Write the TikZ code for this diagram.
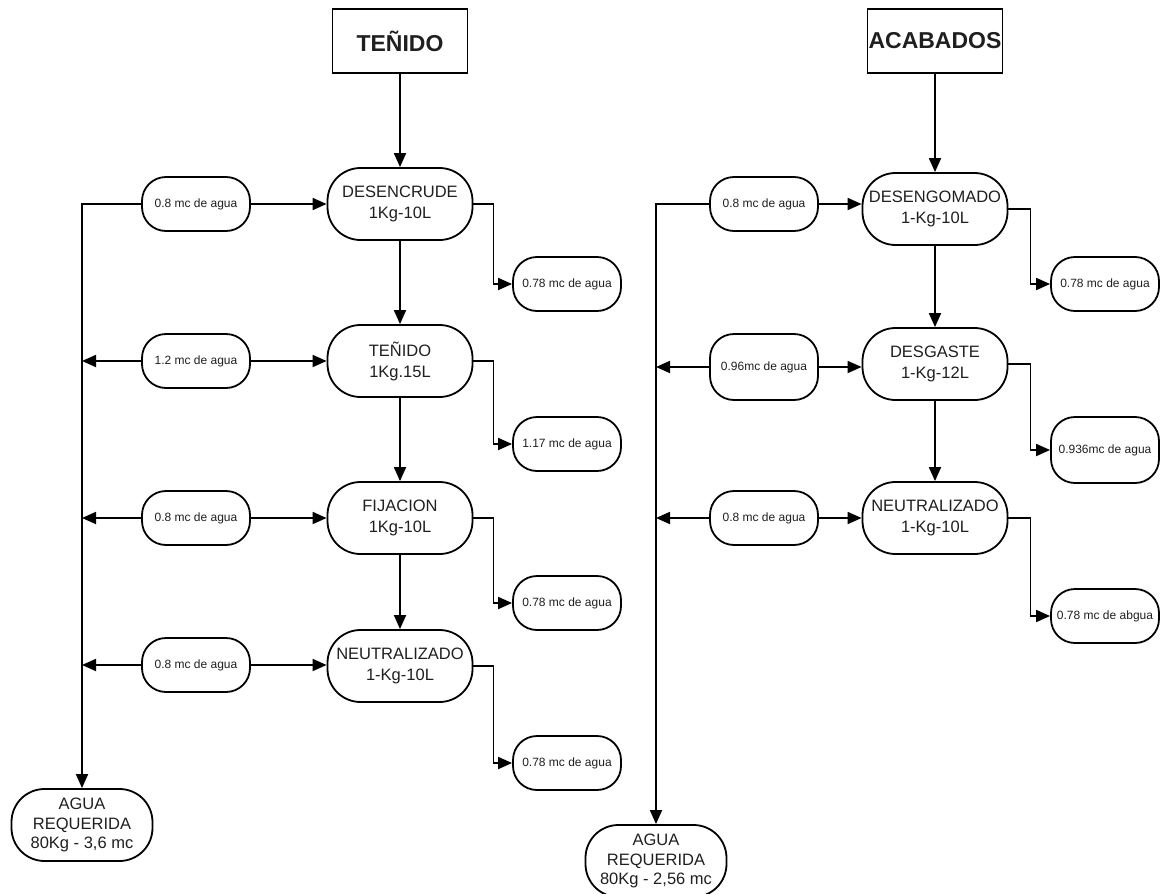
\documentclass[tikz,border=0pt]{standalone}
\usepackage{fontspec}
\setmainfont{Liberation Sans}
\usetikzlibrary{arrows.meta}
\begin{document}
\begin{tikzpicture}[x=1pt,y=-1pt,
  every node/.style={inner sep=0pt, align=center, text=black!88},
  line/.style={draw=black, line width=1.8pt},
  arr/.style={line, -{Triangle[length=14pt,width=12pt]}},
  header/.style={draw, line width=1.8pt, minimum width=135pt, minimum height=64pt,
    font=\fontsize{23}{26}\selectfont\bfseries},
  proc/.style={draw, line width=1.8pt, rounded corners=33pt, minimum width=145pt,
    minimum height=72pt, font=\fontsize{16.5}{21}\selectfont},
  water/.style={draw, line width=1.8pt, rounded corners=24pt, minimum width=108pt,
    minimum height=54pt, font=\fontsize{12}{14}\selectfont},
  total/.style={draw, line width=1.8pt, rounded corners=33pt, minimum width=141pt,
    minimum height=72pt, font=\fontsize{16.5}{19.5}\selectfont},
]
\useasboundingbox (0,0) rectangle (1163,894);

% ---------------- TEÑIDO ----------------
\node[header] (hA) at (400,41) {TEÑIDO};
\node[proc] (pA1) at (400,204) {DESENCRUDE\\1Kg-10L};
\node[proc] (pA2) at (400,361) {TEÑIDO\\1Kg.15L};
\node[proc] (pA3) at (400,518) {FIJACION\\1Kg-10L};
\node[proc] (pA4) at (400,666) {NEUTRALIZADO\\1-Kg-10L};

\node[water] (iA1) at (196,204) {0.8 mc de agua};
\node[water] (iA2) at (196,361) {1.2 mc de agua};
\node[water] (iA3) at (196,518) {0.8 mc de agua};
\node[water] (iA4) at (196,665) {0.8 mc de agua};

\node[water] (oA1) at (567,284) {0.78 mc de agua};
\node[water] (oA2) at (567,444) {1.17 mc de agua};
\node[water] (oA3) at (567,603) {0.78 mc de agua};
\node[water] (oA4) at (567,763) {0.78 mc de agua};

\node[total] (rA) at (82,825) {AGUA\\REQUERIDA\\80Kg - 3,6 mc};

\draw[arr] (hA.south) -- (pA1.north);
\draw[arr] (pA1.south) -- (pA2.north);
\draw[arr] (pA2.south) -- (pA3.north);
\draw[arr] (pA3.south) -- (pA4.north);

\foreach \i in {1,2,3,4} {
  \draw[arr] (iA\i.east) -- (iA\i.east -| pA\i.west);
  \draw[arr] (pA\i.east) -- ++(20,0) |- (oA\i.west);
}
\draw[arr] (iA1.west) -| (rA.north);
\foreach \i in {2,3,4}
  \draw[arr] (iA\i.west) -- (iA\i.west -| rA.north);

% ---------------- ACABADOS ----------------
\node[header] (hB) at (935,41) {ACABADOS};
\node[proc] (pB1) at (935,209) {DESENGOMADO\\1-Kg-10L};
\node[proc] (pB2) at (935,364) {DESGASTE\\1-Kg-12L};
\node[proc] (pB3) at (935,518) {NEUTRALIZADO\\1-Kg-10L};

\node[water] (iB1) at (764,204) {0.8 mc de agua};
\node[water, minimum height=66pt] (iB2) at (764,367) {0.96mc de agua};
\node[water] (iB3) at (764,518) {0.8 mc de agua};

\node[water] (oB1) at (1105,284) {0.78 mc de agua};
\node[water, minimum height=66pt] (oB2) at (1105,450) {0.936mc de agua};
\node[water] (oB3) at (1105,616) {0.78 mc de abgua};

\node[total] (rB) at (656,861) {AGUA\\REQUERIDA\\80Kg - 2,56 mc};

\draw[arr] (hB.south) -- (pB1.north);
\draw[arr] (pB1.south) -- (pB2.north);
\draw[arr] (pB2.south) -- (pB3.north);

\foreach \i in {1,2,3} {
  \draw[arr] (iB\i.east) -- (iB\i.east -| pB\i.west);
  \draw[arr] (pB\i.east) -- ++(22,0) |- (oB\i.west);
}
\draw[arr] (iB1.west) -| (rB.north);
\foreach \i in {2,3}
  \draw[arr] (iB\i.west) -- (iB\i.west -| rB.north);
\end{tikzpicture}
\end{document}
